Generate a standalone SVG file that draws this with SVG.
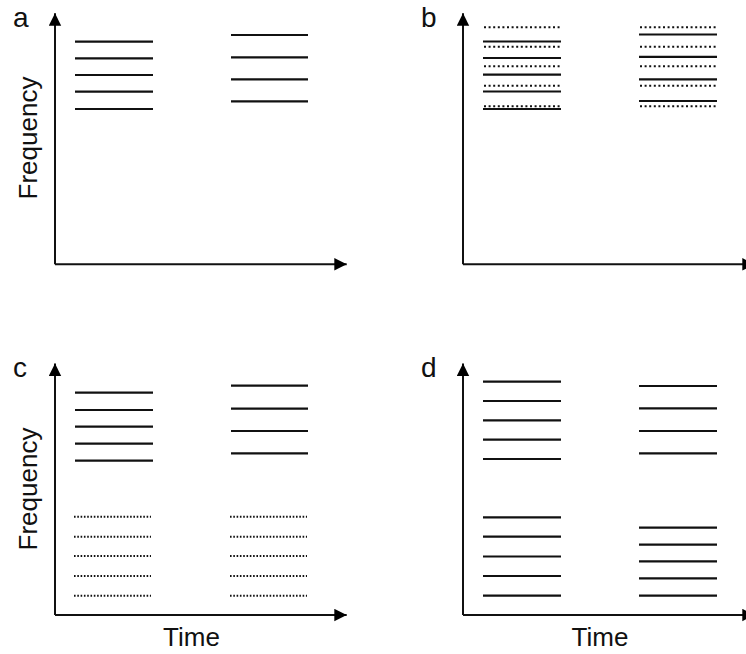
<svg xmlns="http://www.w3.org/2000/svg" width="746" height="654" viewBox="0 0 746 654">
<style>
  .ax { stroke: #111; stroke-width: 2; fill: none; }
  .s { stroke: #111; stroke-width: 2.2; }
  .d { stroke: #111; stroke-width: 2; stroke-dasharray: 2 2.6; }
  .dc { stroke: #111; stroke-width: 2; stroke-dasharray: 1.6 1.7; }
  .lbl { font-family: "Liberation Sans", Arial, sans-serif; font-size: 28px; fill: #111; }
  .ttl { font-family: "Liberation Sans", Arial, sans-serif; font-size: 26px; fill: #111; }
</style>
<defs>
  <marker id="arr" markerUnits="userSpaceOnUse" markerWidth="14" markerHeight="14" refX="12.4" refY="6.2" orient="auto">
    <path d="M0,0 L12.4,6.2 L0,12.4 z" fill="#000"/>
  </marker>
</defs>
<rect width="746" height="654" fill="#fff"/>

<g id="connectors">
  <path class="ax" d="M55,264.3 V13.3" marker-end="url(#arr)"/>
  <path class="ax" d="M55,264.3 H346.7" marker-end="url(#arr)"/>
  <path class="ax" d="M463,264.3 V13.3" marker-end="url(#arr)"/>
  <path class="ax" d="M463,264.3 H754.7" marker-end="url(#arr)"/>
  <path class="ax" d="M55,615 V363.5" marker-end="url(#arr)"/>
  <path class="ax" d="M55,615 H346.7" marker-end="url(#arr)"/>
  <path class="ax" d="M463,615 V363.5" marker-end="url(#arr)"/>
  <path class="ax" d="M463,615 H754.7" marker-end="url(#arr)"/>
</g>

<g id="panel-a">
  <text class="lbl" x="13" y="27">a</text>
  <text class="ttl" transform="translate(36.5,138) rotate(-90)" text-anchor="middle">Frequency</text>
  <g class="s">
    <line x1="75" x2="153" y1="41.7" y2="41.7"/>
    <line x1="75" x2="153" y1="58.3" y2="58.3"/>
    <line x1="75" x2="153" y1="75" y2="75"/>
    <line x1="75" x2="153" y1="91.7" y2="91.7"/>
    <line x1="75" x2="153" y1="109" y2="109"/>
    <line x1="231" x2="308" y1="35" y2="35"/>
    <line x1="231" x2="308" y1="57.3" y2="57.3"/>
    <line x1="231" x2="308" y1="79.3" y2="79.3"/>
    <line x1="231" x2="308" y1="101.3" y2="101.3"/>
  </g>
</g>

<g id="panel-b">
  <text class="lbl" x="421" y="27">b</text>
  <g class="s">
    <line x1="483" x2="561" y1="41.5" y2="41.5"/>
    <line x1="483" x2="561" y1="58" y2="58"/>
    <line x1="483" x2="561" y1="74.7" y2="74.7"/>
    <line x1="483" x2="561" y1="91.5" y2="91.5"/>
    <line x1="483" x2="561" y1="109" y2="109"/>
    <line x1="639" x2="717" y1="34.5" y2="34.5"/>
    <line x1="639" x2="717" y1="56.8" y2="56.8"/>
    <line x1="639" x2="717" y1="79.3" y2="79.3"/>
    <line x1="639" x2="717" y1="101" y2="101"/>
  </g>
  <g class="d">
    <line x1="484" x2="562" y1="27.3" y2="27.3"/>
    <line x1="484" x2="562" y1="46.8" y2="46.8"/>
    <line x1="484" x2="562" y1="66.2" y2="66.2"/>
    <line x1="484" x2="562" y1="85.7" y2="85.7"/>
    <line x1="484" x2="562" y1="106.3" y2="106.3"/>
    <line x1="640" x2="718" y1="27.3" y2="27.3"/>
    <line x1="640" x2="718" y1="46.8" y2="46.8"/>
    <line x1="640" x2="718" y1="66.2" y2="66.2"/>
    <line x1="640" x2="718" y1="85.7" y2="85.7"/>
    <line x1="640" x2="718" y1="106.3" y2="106.3"/>
  </g>
</g>

<g id="panel-c">
  <text class="lbl" x="13" y="377">c</text>
  <text class="ttl" transform="translate(36.5,489) rotate(-90)" text-anchor="middle">Frequency</text>
  <text class="ttl" x="191.5" y="646" text-anchor="middle">Time</text>
  <g class="s">
    <line x1="75" x2="153" y1="392.7" y2="392.7"/>
    <line x1="75" x2="153" y1="410" y2="410"/>
    <line x1="75" x2="153" y1="426.7" y2="426.7"/>
    <line x1="75" x2="153" y1="443.7" y2="443.7"/>
    <line x1="75" x2="153" y1="460.7" y2="460.7"/>
    <line x1="231" x2="308" y1="385.7" y2="385.7"/>
    <line x1="231" x2="308" y1="408.7" y2="408.7"/>
    <line x1="231" x2="308" y1="431" y2="431"/>
    <line x1="231" x2="308" y1="453.3" y2="453.3"/>
  </g>
  <g class="dc">
    <line x1="74" x2="151" y1="516.7" y2="516.7"/>
    <line x1="74" x2="151" y1="536.7" y2="536.7"/>
    <line x1="74" x2="151" y1="556" y2="556"/>
    <line x1="74" x2="151" y1="576" y2="576"/>
    <line x1="74" x2="151" y1="595.7" y2="595.7"/>
    <line x1="230" x2="307" y1="516.7" y2="516.7"/>
    <line x1="230" x2="307" y1="536.7" y2="536.7"/>
    <line x1="230" x2="307" y1="556" y2="556"/>
    <line x1="230" x2="307" y1="576" y2="576"/>
    <line x1="230" x2="307" y1="595.7" y2="595.7"/>
  </g>
</g>

<g id="panel-d">
  <text class="lbl" x="421" y="377">d</text>
  <text class="ttl" x="600" y="646" text-anchor="middle">Time</text>
  <g class="s">
    <line x1="483" x2="561" y1="381.7" y2="381.7"/>
    <line x1="483" x2="561" y1="401" y2="401"/>
    <line x1="483" x2="561" y1="420.3" y2="420.3"/>
    <line x1="483" x2="561" y1="439.7" y2="439.7"/>
    <line x1="483" x2="561" y1="459" y2="459"/>
    <line x1="483" x2="561" y1="517.3" y2="517.3"/>
    <line x1="483" x2="561" y1="536.7" y2="536.7"/>
    <line x1="483" x2="561" y1="556.5" y2="556.5"/>
    <line x1="483" x2="561" y1="576" y2="576"/>
    <line x1="483" x2="561" y1="595.7" y2="595.7"/>
    <line x1="639" x2="717" y1="386" y2="386"/>
    <line x1="639" x2="717" y1="408.3" y2="408.3"/>
    <line x1="639" x2="717" y1="431" y2="431"/>
    <line x1="639" x2="717" y1="453.3" y2="453.3"/>
    <line x1="639" x2="717" y1="527.7" y2="527.7"/>
    <line x1="639" x2="717" y1="544.7" y2="544.7"/>
    <line x1="639" x2="717" y1="561.3" y2="561.3"/>
    <line x1="639" x2="717" y1="578.3" y2="578.3"/>
    <line x1="639" x2="717" y1="595.7" y2="595.7"/>
  </g>
</g>
</svg>
